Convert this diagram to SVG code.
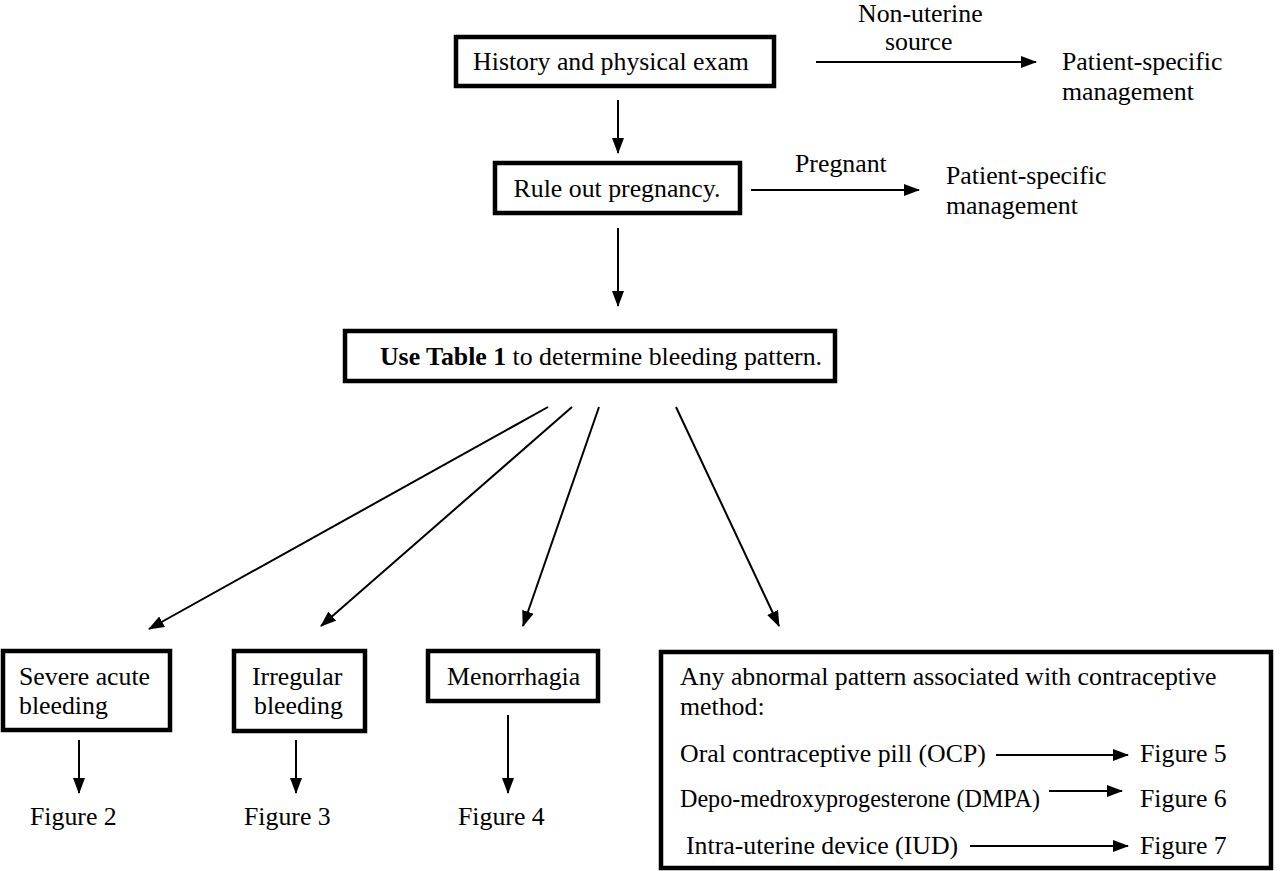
<svg xmlns="http://www.w3.org/2000/svg" width="1280" height="871" viewBox="0 0 1280 871">
<style>
text{font-family:"Liberation Serif","Times New Roman",serif;font-size:25.8px;fill:#000}
.box{fill:#fff;stroke:#000;stroke-width:4.5}
.c{stroke:#000;stroke-width:2;fill:none;marker-end:url(#ah)}
.m{text-anchor:middle}
</style>
<defs>
<marker id="ah" markerWidth="16" markerHeight="12" refX="15" refY="6" orient="auto" markerUnits="userSpaceOnUse">
<path d="M0,0 L16,6 L0,12 Z" fill="#000"/>
</marker>
</defs>
<rect width="1280" height="871" fill="#fff"/>
<g id="connectors">
<line class="c" x1="816" y1="62" x2="1036" y2="62"/>
<line class="c" x1="618" y1="100" x2="618" y2="153"/>
<line class="c" x1="751" y1="190" x2="919" y2="190"/>
<line class="c" x1="618" y1="228" x2="618" y2="306"/>
<line class="c" x1="548" y1="407" x2="149" y2="629"/>
<line class="c" x1="572" y1="407" x2="321" y2="626"/>
<line class="c" x1="599" y1="407" x2="523" y2="626"/>
<line class="c" x1="676" y1="407" x2="779" y2="626"/>
<line class="c" x1="79" y1="740" x2="79" y2="793"/>
<line class="c" x1="296" y1="740" x2="296" y2="793"/>
<line class="c" x1="508" y1="715" x2="508" y2="793"/>
</g>
<g id="n-history">
<rect class="box" x="456" y="37" width="318" height="49"/>
<text class="m" x="611" y="70">History and physical exam</text>
</g>
<g id="l-nonuterine">
<text x="858" y="22">Non-uterine</text>
<text x="885" y="50">source</text>
</g>
<g id="n-psm1">
<text x="1062" y="70">Patient-specific</text>
<text x="1062" y="100">management</text>
</g>
<g id="n-pregnancy">
<rect class="box" x="495" y="163" width="245" height="50"/>
<text class="m" x="617" y="197">Rule out pregnancy.</text>
</g>
<g id="l-pregnant">
<text x="795" y="172">Pregnant</text>
</g>
<g id="n-psm2">
<text x="946" y="184">Patient-specific</text>
<text x="946" y="214">management</text>
</g>
<g id="n-table">
<rect class="box" x="345" y="331" width="490" height="50"/>
<text class="m" x="601" y="365"><tspan font-weight="bold">Use Table 1</tspan> to determine bleeding pattern.</text>
</g>
<g id="n-severe">
<rect class="box" x="3" y="651" width="167" height="79"/>
<text x="19" y="685">Severe acute</text>
<text x="19" y="714">bleeding</text>
</g>
<g id="n-irregular">
<rect class="box" x="234" y="651" width="131" height="80"/>
<text x="252" y="685">Irregular</text>
<text x="254" y="714">bleeding</text>
</g>
<g id="n-menorrhagia">
<rect class="box" x="428" y="651" width="170" height="50"/>
<text x="447" y="685">Menorrhagia</text>
</g>
<g id="n-fig2"><text x="30" y="825">Figure 2</text></g>
<g id="n-fig3"><text x="244" y="825">Figure 3</text></g>
<g id="n-fig4"><text x="458" y="825">Figure 4</text></g>
<g id="n-contraceptive">
<rect class="box" x="661" y="652" width="610" height="216"/>
<text x="680" y="685">Any abnormal pattern associated with contraceptive</text>
<text x="680" y="715">method:</text>
<text x="680" y="762">Oral contraceptive pill (OCP)</text>
<text x="680" y="807" textLength="360" lengthAdjust="spacingAndGlyphs">Depo-medroxyprogesterone (DMPA)</text>
<text x="686" y="854">Intra-uterine device (IUD)</text>
<line class="c" x1="996" y1="755" x2="1128" y2="755"/>
<line class="c" x1="1049" y1="791" x2="1122" y2="791"/>
<line class="c" x1="970" y1="846" x2="1128" y2="846"/>
<text x="1140" y="762">Figure 5</text>
<text x="1140" y="807">Figure 6</text>
<text x="1140" y="854">Figure 7</text>
</g>
</svg>
